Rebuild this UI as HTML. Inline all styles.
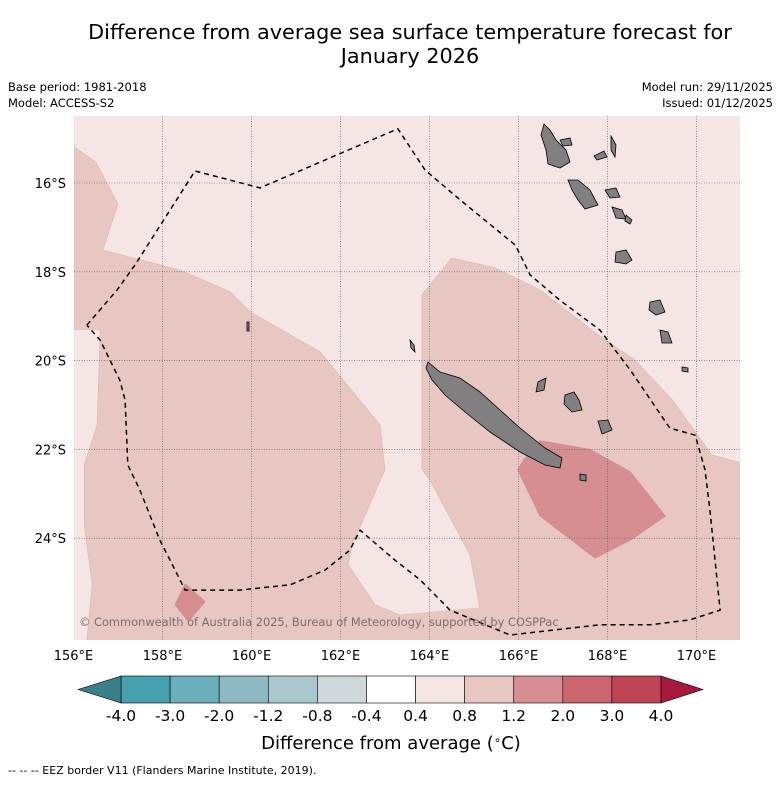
<!DOCTYPE html>
<html><head><meta charset="utf-8"><style>
body{margin:0;background:#fff;font-family:"Liberation Sans","DejaVu Sans",sans-serif}
svg text{font-family:"DejaVu Sans","Liberation Sans",sans-serif}
</style></head><body>
<svg id="c" width="781" height="781" viewBox="0 0 781 781" xmlns="http://www.w3.org/2000/svg">
<text x="410" y="39" font-size="20.8" text-anchor="middle">Difference from average sea surface temperature forecast for</text>
<text x="410" y="63" font-size="20.8" text-anchor="middle">January 2026</text>
<text x="8" y="91" font-size="11.5">Base period: 1981-2018</text>
<text x="8" y="107" font-size="11.5">Model: ACCESS-S2</text>
<text x="773" y="91" font-size="11.5" text-anchor="end">Model run: 29/11/2025</text>
<text x="773" y="107" font-size="11.5" text-anchor="end">Issued: 01/12/2025</text>
<defs><clipPath id="mc"><rect x="74" y="116" width="666" height="524"/></clipPath></defs>
<g id="map" clip-path="url(#mc)"></g>
<g id="axes"></g>
<g id="cbar"></g>
<text x="391" y="749" font-size="18" text-anchor="middle">Difference from average (<tspan font-size="12" dy="-5">∘</tspan><tspan dy="5">C)</tspan></text>
<text x="8" y="774" font-size="11">--  --  -- EEZ border V11 (Flanders Marine Institute, 2019).</text>
</svg>
<script>
// ----- data -----
const lonTicks=[156,158,160,162,164,166,168,170];
const latTicks=[-16,-18,-20,-22,-24];
const cbLevels=[-4,-3,-2,-1.2,-0.8,-0.4,0.4,0.8,1.2,2,3,4];
const cbLabels=["-4.0","-3.0","-2.0","-1.2","-0.8","-0.4","0.4","0.8","1.2","2.0","3.0","4.0"];
const cbColors=["#45a0b0","#6aafbb","#8db9c3","#a9c7cc","#cfd8da","#ffffff","#f5e6e5","#e8c6c1","#d68e93","#cb6670","#bf4555"];
const underColor="#3a7f8a", overColor="#a8183a";
const bgLevel=0.6, midLevel=1.0, highLevel=1.6;
const lightTop=[[156,-14.4],[171.2,-14.4],[171.2,-22.35],[170.35,-22.13],[169.46,-20.89],[168.62,-19.99],[167.79,-19.42],[166.48,-18.41],[165.47,-17.91],[164.5,-17.69],[163.83,-18.52],[163.83,-22.46],[164.01,-22.69],[164.91,-24.38],[165.13,-25.57],[163.34,-25.73],[162.78,-25.5],[162.17,-24.6],[162.26,-24.15],[163.0,-22.46],[162.89,-21.45],[161.54,-19.8],[159.97,-18.9],[159.52,-18.45],[158.39,-17.96],[156.66,-17.51],[157.0,-16.47],[156.5,-15.53],[156,-15.17]];
const lightLeft=[[155.9,-19.3],[156.6,-19.3],[156.53,-21.45],[156.24,-22.35],[156.24,-23.7],[156.42,-25.05],[156.29,-26.4],[155.9,-26.4]];
const highMain=[[166.48,-21.8],[167.61,-22.0],[168.51,-22.5],[169.3,-23.5],[168.51,-24.05],[167.72,-24.45],[166.48,-23.5],[165.98,-22.46],[166.14,-22.2]];
const highSmall=[[158.28,-25.5],[158.51,-25.03],[158.96,-25.43],[158.58,-25.88]];
const eezLon=[156.30,156.98,157.38,158.73,160.19,163.29,163.90,164.69,165.93,166.26,166.93,167.83,168.51,169.40,169.97,170.19,170.30,170.53,169.85,168.95,167.83,165.81,164.46,163.79,163.22,162.44,162.21,161.65,160.87,159.74,158.51,157.94,157.49,157.22,157.16,157.04,156.60,156.30];
const eezLat=[-19.20,-18.41,-17.85,-15.73,-16.11,-14.78,-15.71,-16.38,-17.40,-18.07,-18.64,-19.31,-20.21,-21.52,-21.68,-22.46,-23.36,-25.62,-25.84,-25.95,-25.95,-26.18,-25.62,-24.94,-24.49,-23.82,-24.27,-24.72,-25.05,-25.17,-25.17,-24.04,-22.91,-22.35,-20.89,-20.44,-19.54,-19.20];
// ----- scales -----
const X=lon=>73.5+(lon-156)*44.5;
const Y=lat=>183+(-16-lat)*44.4;
const levColor=v=>{for(let i=0;i<cbColors.length;i++){if(v>=cbLevels[i]&&v<cbLevels[i+1])return cbColors[i];}return v<cbLevels[0]?underColor:overColor;};
const NS="http://www.w3.org/2000/svg";
function mk(tag,attrs,parent){const e=document.createElementNS(NS,tag);for(const k in attrs)e.setAttribute(k,attrs[k]);parent.appendChild(e);return e;}
const map=document.getElementById('map');
let r=mk('rect',{x:74,y:116,width:666,height:524,fill:levColor(midLevel)},map);


const poly=pts=>pts.map(p=>X(p[0]).toFixed(1)+','+Y(p[1]).toFixed(1)).join(' ');
let p1=mk('polygon',{points:poly(lightTop),fill:levColor(bgLevel),stroke:'#d8b8b4','stroke-width':0.6},map);


let p2=mk('polygon',{points:poly(lightLeft),fill:levColor(bgLevel),stroke:'#d8b8b4','stroke-width':0.6},map);


let p3=mk('polygon',{points:poly(highMain),fill:levColor(highLevel),stroke:'#c88a8e','stroke-width':0.6},map);


let p4=mk('polygon',{points:poly(highSmall),fill:levColor(highLevel),stroke:'#c88a8e','stroke-width':0.6},map);


lonTicks.forEach(l=>{const g=mk('line',{x1:X(l),x2:X(l),y1:116,y2:640,stroke:'#555','stroke-width':0.6,'stroke-dasharray':'1,1.5'},map);

});
latTicks.forEach(l=>{const g=mk('line',{x1:74,x2:740,y1:Y(l),y2:Y(l),stroke:'#555','stroke-width':0.6,'stroke-dasharray':'1,1.5'},map);

});
const isl=mk('g',{fill:'#808080',stroke:'#000','stroke-width':0.8},map);


isl.innerHTML=`<path d="M428,362 L440,372 L460,378 L480,392 L500,410 L520,428 L545,448 L562,458 L560,468 L545,465 L520,452 L490,432 L465,412 L445,395 L432,380 L426,368Z"/>
<path d="M565,395 L574,392 L579,400 L582,410 L572,412 L564,404Z"/><path d="M598,421 L608,420 L612,430 L602,434Z"/><path d="M538,382 L546,378 L544,390 L536,392Z"/><path d="M580,474 L586,475 L586,481 L580,480Z"/>
<path d="M544,124 L550,130 L556,140 L566,150 L570,162 L560,168 L548,164 L546,150 L541,135Z"/><path d="M560,140 L570,138 L572,145 L563,146Z"/><path d="M594,156 L604,151 L607,157 L597,160Z"/><path d="M611,136 L616,145 L615,157 L611,150Z"/>
<path d="M568,180 L578,180 L590,190 L598,205 L585,209 L578,200 L572,190Z"/><path d="M605,190 L616,188 L620,197 L610,198Z"/><path d="M612,207 L622,210 L626,219 L616,218Z"/><path d="M626,215 L632,220 L630,224 L625,221Z"/>
<path d="M616,252 L626,250 L632,260 L626,264 L615,262Z"/><path d="M650,302 L660,300 L665,312 L656,315 L649,310Z"/><path d="M660,330 L668,332 L672,343 L662,343Z"/><path d="M682,367 L688,368 L688,372 L682,371Z"/>
<path d="M247,322 L249,322 L249,331 L247,331Z"/><path d="M410,340 L414,345 L415,352 L411,348Z"/>`;
const eez=mk('polyline',{points:eezLon.map((l,i)=>X(l).toFixed(1)+','+Y(eezLat[i]).toFixed(1)).join(' '),fill:'none',stroke:'#000','stroke-width':1.5,'stroke-dasharray':'5,4'},map);


let cp=mk('text',{x:79,y:626,'font-size':11.4,fill:'#7a6e6e'},map);cp.textContent='© Commonwealth of Australia 2025, Bureau of Meteorology, supported by COSPPac';


const ax=document.getElementById('axes');
lonTicks.forEach(l=>{const t=mk('text',{x:X(l),y:660,'font-size':13,'text-anchor':'middle'},ax);t.textContent=l+'°E';

});
latTicks.forEach(l=>{const t=mk('text',{x:66,y:Y(l)+5,'font-size':13,'text-anchor':'end'},ax);t.textContent=(-l)+'°S';

});
const cb=document.getElementById('cbar');
const cx0=121,cx1=661,cy=676,ch=27,seg=(cx1-cx0)/cbColors.length;
cbColors.forEach((c,i)=>{const s=mk('rect',{x:cx0+i*seg,y:cy,width:seg,height:ch,fill:c,stroke:'#000','stroke-width':0.6},cb);

});
let u=mk('polygon',{points:`${cx0},${cy} 78,${cy+ch/2} ${cx0},${cy+ch}`,fill:underColor,stroke:'#000','stroke-width':0.6},cb);


let o=mk('polygon',{points:`${cx1},${cy} 703,${cy+ch/2} ${cx1},${cy+ch}`,fill:overColor,stroke:'#000','stroke-width':0.6},cb);


cbLabels.forEach((lb,i)=>{const t=mk('text',{x:cx0+i*seg,y:721,'font-size':15.5,'text-anchor':'middle'},cb);t.textContent=lb;

});
</script>
</body></html>
